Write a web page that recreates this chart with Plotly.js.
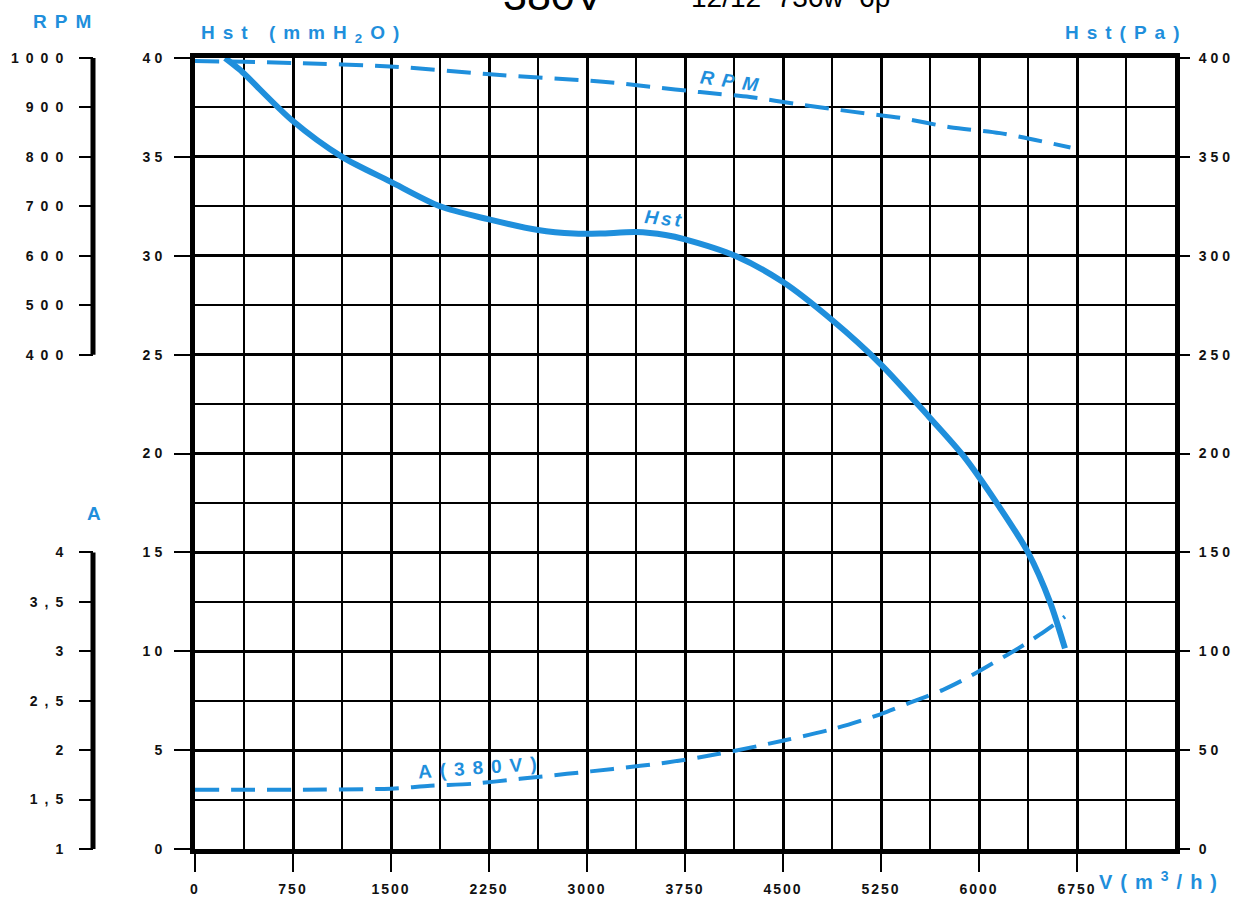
<!DOCTYPE html>
<html>
<head>
<meta charset="utf-8">
<script src="https://cdn.plot.ly/plotly-3.0.1.min.js"></script>
<style>
html,body{margin:0;padding:0;background:#fff;}
#chart{width:1244px;height:903px;}
#chart .xtick text{letter-spacing:2px;}
#chart .ytick text,#chart .y2tick text{letter-spacing:4px;}
#chart .y3tick text,#chart .y4tick text{letter-spacing:7px;}
#chart g.annotation text{letter-spacing:8px;}
#chart g.annotation[data-index="5"] text,#chart g.annotation[data-index="6"] text{letter-spacing:0px;}
#chart g.annotation[data-index="7"] text{letter-spacing:3px;}
</style>
</head>
<body>
<div id="chart"></div>
<script>
// ---- data ----
const hstFlow = [230, 344, 742, 1125, 1492, 1875, 2242, 2625, 2900, 3100, 3375, 3600, 3750, 4133, 4500, 4875, 5250, 5625, 5878, 6135, 6375, 6543, 6658];
const hstMm   = [40, 39.4, 36.85, 35.0, 33.76, 32.5, 31.85, 31.3, 31.12, 31.12, 31.2, 31.05, 30.83, 30.0, 28.67, 26.75, 24.5, 21.8, 19.9, 17.5, 15.0, 12.5, 10.14];

const rpmFlow = [0, 750, 1492, 2258, 3122, 3482, 3865, 4247, 4630, 5013, 5395, 5778, 6161, 6700];
const rpmVal  = [994, 990, 983, 967, 952, 942, 931, 921, 906, 892, 879, 860, 848, 819];

const ampFlow = [0, 750, 1500, 1800, 2127, 2487, 2847, 3199, 3612, 4000, 4515, 4900, 5240, 5472, 5725, 5908, 6107, 6290, 6467, 6658];
const ampVal  = [1.60, 1.60, 1.61, 1.64, 1.66, 1.71, 1.76, 1.81, 1.875, 1.96, 2.10, 2.22, 2.36, 2.48, 2.61, 2.73, 2.88, 3.02, 3.17, 3.35];

const flowTicks = [0, 750, 1500, 2250, 3000, 3750, 4500, 5250, 6000, 6750];
const hstTicks  = [0, 5, 10, 15, 20, 25, 30, 35, 40];
const paTicks   = [0, 50, 100, 150, 200, 250, 300, 350, 400];
const rpmTicks  = [400, 500, 600, 700, 800, 900, 1000];
const ampTicks  = [1, 1.5, 2, 2.5, 3, 3.5, 4];
const ampTickText = ['1', '1,5', '2', '2,5', '3', '3,5', '4'];

// ---- styling ----
const BLUE = '#1f8fdc';
const FONT = 'Liberation Sans, Arial, sans-serif';
const tickFont = {family: FONT, size: 14, color: '#111', weight: 700};
const titleFont = {family: FONT, size: 19, color: BLUE, weight: 700};

// plot frame geometry (pixels)
const W = 1244, H = 903, L = 60, R = 1175, T = 58, B = 849;
const pw = R - L;
const px = v => (v - L) / pw;            // pixel x -> paper x
const py = v => (B - v) / (B - T);       // pixel y -> paper y
const xStart = px(195);
const sideAxisPos = px(93);

const traces = [
  {x: hstFlow, y: hstMm, xaxis: 'x', yaxis: 'y', mode: 'lines',
   line: {color: BLUE, width: 6, shape: 'spline', smoothing: 0.8}, hoverinfo: 'skip'},
  {x: rpmFlow, y: rpmVal, xaxis: 'x', yaxis: 'y3', mode: 'lines',
   line: {color: BLUE, width: 4, dash: '24px,12px', shape: 'spline', smoothing: 0.8}, hoverinfo: 'skip'},
  {x: ampFlow, y: ampVal, xaxis: 'x', yaxis: 'y4', mode: 'lines',
   line: {color: BLUE, width: 4, dash: '24px,12px', shape: 'spline', smoothing: 0.8}, hoverinfo: 'skip'},
  // the Pa axis shows the same static pressure curve in pascals; registered invisibly so the axis is drawn
  {x: hstFlow, y: hstMm.map(v => v * 10), xaxis: 'x', yaxis: 'y2', mode: 'lines',
   line: {color: 'rgba(0,0,0,0)', width: 0}, hoverinfo: 'skip', showlegend: false}
];

const sideTick = {
  ticks: 'outside', ticklen: 14, tickwidth: 2, tickcolor: '#000',
  tickfont: tickFont, ticklabelstandoff: 6,
  showgrid: false, showline: false, zeroline: false, fixedrange: true
};

const ann = (text, x, y, font, extra) => Object.assign(
  {text: text, xref: 'paper', yref: 'paper', x: x, y: y, showarrow: false,
   xanchor: 'center', yanchor: 'middle', font: font}, extra || {});

const layout = {
  width: W, height: H,
  margin: {l: L, r: W - R, t: T, b: H - B, pad: 0},
  paper_bgcolor: '#fff', plot_bgcolor: '#fff',
  showlegend: false,
  xaxis: {
    range: [0, 7500], domain: [xStart, 1], anchor: 'y',
    tickmode: 'array', tickvals: flowTicks,
    ticks: 'outside', ticklen: 18, tickwidth: 2, tickcolor: '#000',
    tickfont: tickFont, ticklabelstandoff: 5,
    showgrid: true, gridcolor: '#000', gridwidth: 3,
    minor: {tickmode: 'linear', tick0: 0, dtick: 375, showgrid: true, gridcolor: '#000', gridwidth: 2, ticks: ''},
    showline: true, mirror: true, linecolor: '#000', linewidth: 5,
    zeroline: false, fixedrange: true
  },
  yaxis: {
    range: [0, 40], domain: [0, 1], anchor: 'x',
    tickmode: 'array', tickvals: hstTicks,
    ticks: 'outside', ticklen: 16, tickwidth: 2, tickcolor: '#000',
    tickfont: tickFont, ticklabelstandoff: 5,
    showgrid: true, gridcolor: '#000', gridwidth: 3,
    minor: {tickmode: 'linear', tick0: 0, dtick: 2.5, showgrid: true, gridcolor: '#000', gridwidth: 2, ticks: ''},
    showline: true, mirror: true, linecolor: '#000', linewidth: 5,
    zeroline: false, fixedrange: true
  },
  yaxis2: Object.assign({}, sideTick, {
    range: [0, 400], overlaying: 'y', side: 'right', anchor: 'x',
    tickmode: 'array', tickvals: paTicks, ticklabelstandoff: 6
  }),
  yaxis3: Object.assign({}, sideTick, {
    range: [-600, 1000], overlaying: 'y', anchor: 'free', position: sideAxisPos, side: 'left',
    tickmode: 'array', tickvals: rpmTicks, ticklabelstandoff: 6
  }),
  yaxis4: Object.assign({}, sideTick, {
    range: [1, 9], overlaying: 'y', anchor: 'free', position: sideAxisPos, side: 'left',
    tickmode: 'array', tickvals: ampTicks, ticktext: ampTickText, ticklabelstandoff: 6
  }),
  shapes: [
    {type: 'line', xref: 'paper', yref: 'y3', x0: sideAxisPos, x1: sideAxisPos,
     y0: rpmTicks[0], y1: rpmTicks[rpmTicks.length - 1], line: {color: '#000', width: 5}},
    {type: 'line', xref: 'paper', yref: 'y4', x0: sideAxisPos, x1: sideAxisPos,
     y0: ampTicks[0], y1: ampTicks[ampTicks.length - 1], line: {color: '#000', width: 5}}
  ],
  annotations: [
    ann('RPM', px(66), py(21), titleFont),
    ann('Hst (mmH<sub>2</sub>O)', px(304), py(34), titleFont),
    ann('Hst(Pa)', px(1126), py(33), titleFont),
    ann('A', px(98), py(513), titleFont),
    ann('V(m<sup>3</sup>/h)', px(1162), py(880), {family: FONT, size: 20, color: BLUE, weight: 700}),
    ann('380V', px(553), py(-5), {family: FONT, size: 43, color: '#000'}),
    ann('12/12  736w  6p', px(790), py(-2), {family: FONT, size: 28, color: '#000'}),
    {text: 'Hst', xref: 'x', yref: 'y', x: 3590, y: 31.9, showarrow: false, textangle: 6,
     xanchor: 'center', yanchor: 'middle',
     font: {family: FONT, size: 19, color: BLUE, weight: 700, style: 'italic'}},
    {text: 'RPM', xref: 'x', yref: 'y', x: 4120, y: 38.8, showarrow: false, textangle: 8,
     xanchor: 'center', yanchor: 'middle',
     font: {family: FONT, size: 19, color: BLUE, weight: 700, style: 'italic'}},
    {text: 'A(380V)', xref: 'x', yref: 'y', x: 2190, y: 4.1, showarrow: false, textangle: -4,
     xanchor: 'center', yanchor: 'middle',
     font: {family: FONT, size: 19, color: BLUE, weight: 700}}
  ]
};

Plotly.newPlot('chart', traces, layout, {displayModeBar: false, staticPlot: true});
</script>
</body>
</html>
